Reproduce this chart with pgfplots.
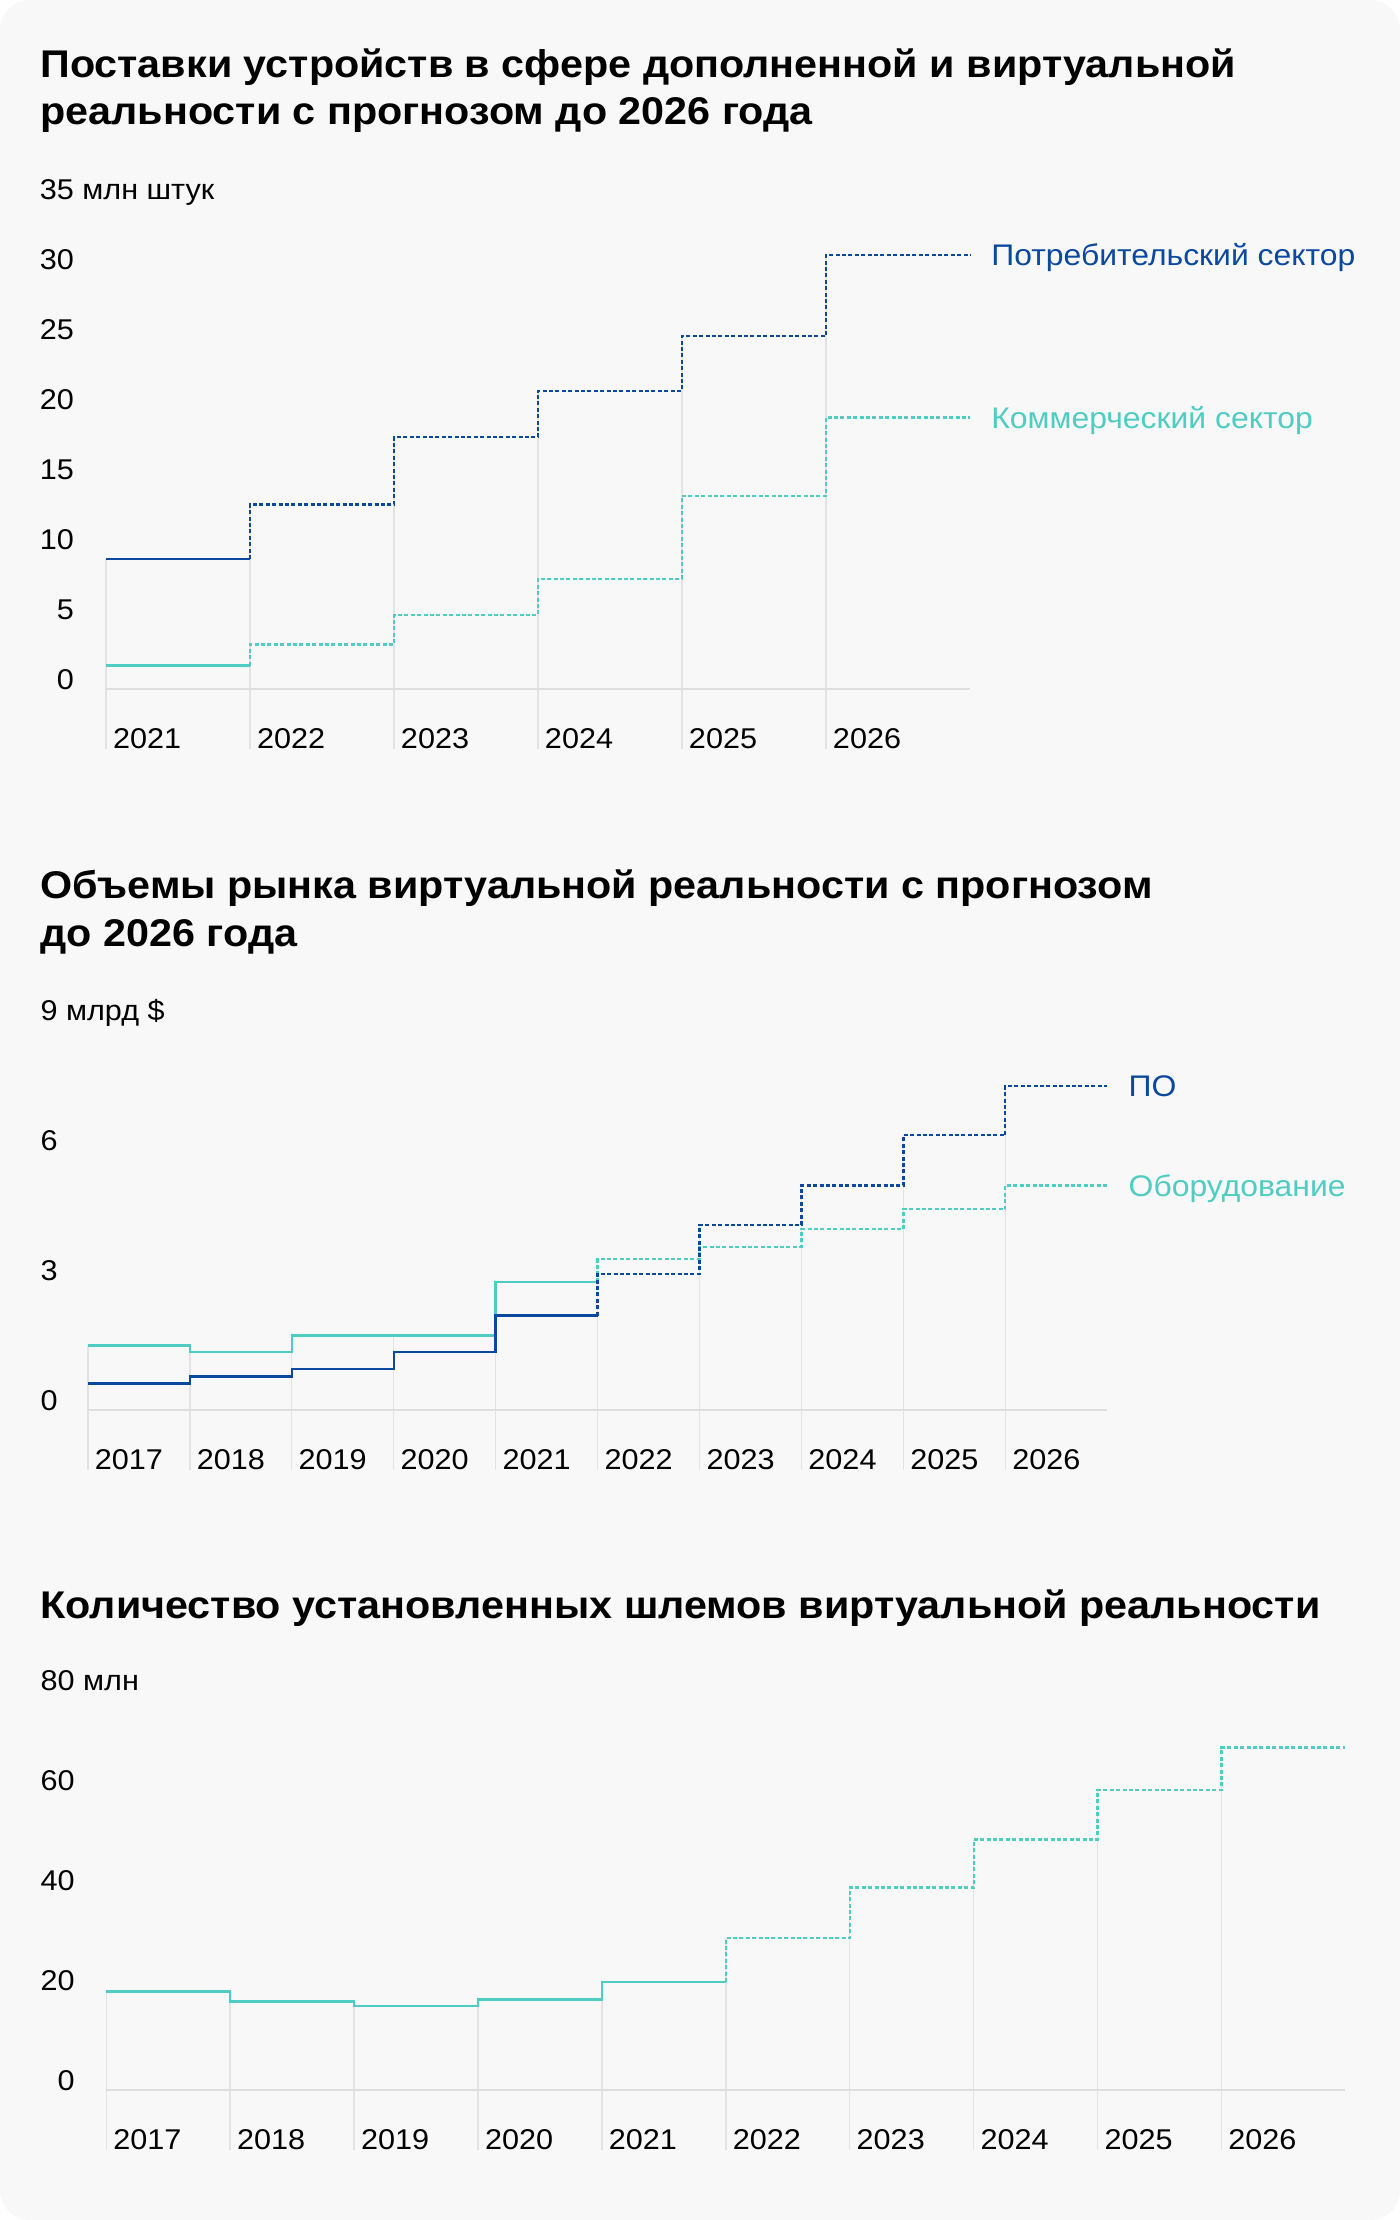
\documentclass[border=0pt]{standalone}
\usepackage{fontspec}
\setmainfont{Liberation Sans}[FakeStretch=1.07]
\usepackage{pgfplots}
\pgfplotsset{compat=1.18}

\definecolor{bgc}{HTML}{F8F8F8}
\definecolor{vrblue}{HTML}{0B48A0}
\definecolor{vrteal}{HTML}{50CDC3}
\definecolor{gridc}{HTML}{E3E3E3}
\definecolor{basec}{HTML}{DEDEDE}

\newcommand\ttl{\fontsize{19.3}{23}\selectfont\bfseries}
\newcommand\lbl{\fontsize{14.9}{17}\selectfont}

\tikzset{
  grd/.style={gridc, line width=0.75pt},
  base/.style={basec, line width=1pt},
}
\pgfplotsset{
  steps/.style={
    scale only axis, clip=false, xmin=0, ymin=0, anchor=origin,
    axis line style={draw=none}, major tick length=0pt,
    ticklabel style={font=\fontsize{14.3}{16}\selectfont, inner sep=0pt, text=black},
    xticklabel style={anchor=base west, xshift=3.3pt, yshift=-29.6pt},
    yticklabel style={anchor=base east},
  },
  fact/.style={line width=1.15pt},
  fcst/.style={line width=1.1pt, dash pattern=on 2pt off 1.2pt},
}

\begin{document}
\begin{tikzpicture}
\path[use as bounding box] (0,0) rectangle (700pt,-1110pt);
\fill[bgc, rounded corners=15pt] (0,0) rectangle (700pt,-1110pt);

% titles
\node[anchor=base west, inner sep=0pt, font=\ttl] at (20pt,-38.85pt) {Поставки устройств в сфере дополненной и виртуальной};
\node[anchor=base west, inner sep=0pt, font=\ttl] at (20pt,-62.5pt) {реальности с прогнозом до 2026 года};
\node[anchor=base west, inner sep=0pt, font=\ttl] at (20pt,-449.15pt) {Объемы рынка виртуальной реальности с прогнозом};
\node[anchor=base west, inner sep=0pt, font=\ttl] at (20pt,-473pt) {до 2026 года};
\node[anchor=base west, inner sep=0pt, font=\ttl] at (20pt,-809.15pt) {Количество установленных шлемов виртуальной реальности};

% 1: shipments, mln units
\begin{axis}[steps, at={(53pt,-344.7pt)}, width=432pt, height=245.2pt,
  xmax=6, ymax=35, xtick={0,...,5}, xticklabels={2021,2022,2023,2024,2025,2026},
  ytick={0,5,...,35}, yticklabels={0,5,10,15,20,25,30,{35\rlap{ млн штук}}},
  yticklabel style={xshift=-15.85pt}]
\draw[grd] (axis cs:0,9.3) -- ([yshift=-30pt]axis cs:0,0);
\draw[grd] (axis cs:1,13.2) -- ([yshift=-30pt]axis cs:1,0);
\draw[grd] (axis cs:2,18.0) -- ([yshift=-30pt]axis cs:2,0);
\draw[grd] (axis cs:3,21.3) -- ([yshift=-30pt]axis cs:3,0);
\draw[grd] (axis cs:4,25.2) -- ([yshift=-30pt]axis cs:4,0);
\draw[grd] (axis cs:5,31.0) -- ([yshift=-30pt]axis cs:5,0);
\draw[base] (axis cs:0,0) -- (axis cs:6,0);
% commercial
\addplot[vrteal, fact] coordinates {(0,1.7) (1,1.7)};
\addplot[vrteal, fcst, const plot mark left] coordinates {(1,1.7) (1,3.2) (2,5.3) (3,7.9) (4,13.8) (5,19.4) (6,19.4)};
% consumer
\addplot[vrblue, fact] coordinates {(0,9.3) (1,9.3)};
\addplot[vrblue, fcst, const plot mark left] coordinates {(1,9.3) (1,13.2) (2,18.0) (3,21.3) (4,25.2) (5,31.0) (6,31.0)};
\node[anchor=base west, inner sep=0pt, font=\lbl, text=vrblue, xshift=10.5pt, yshift=-5.3pt] at (axis cs:6,31.0) {Потребительский сектор};
\node[anchor=base west, inner sep=0pt, font=\lbl, text=vrteal, xshift=10.5pt, yshift=-5.3pt] at (axis cs:6,19.4) {Коммерческий сектор};
\end{axis}

% 2: VR market, bn USD
\begin{axis}[steps, at={(43.9pt,-705pt)}, width=509.75pt, height=195pt,
  xmax=10, ymax=9, xtick={0,...,9},
  xticklabels={2017,2018,2019,2020,2021,2022,2023,2024,2025,2026},
  ytick={0,3,6,9}, yticklabels={0,3,6,{9\rlap{ млрд \$}}},
  yticklabel style={xshift=-14.9pt}]
\draw[grd] (axis cs:0,1.48) -- ([yshift=-30pt]axis cs:0,0);
\draw[grd] (axis cs:1,1.48) -- ([yshift=-30pt]axis cs:1,0);
\draw[grd] (axis cs:2,1.71) -- ([yshift=-30pt]axis cs:2,0);
\draw[grd] (axis cs:3,1.71) -- ([yshift=-30pt]axis cs:3,0);
\draw[grd] (axis cs:4,2.95) -- ([yshift=-30pt]axis cs:4,0);
\draw[grd] (axis cs:5,3.48) -- ([yshift=-30pt]axis cs:5,0);
\draw[grd] (axis cs:6,4.27) -- ([yshift=-30pt]axis cs:6,0);
\draw[grd] (axis cs:7,5.18) -- ([yshift=-30pt]axis cs:7,0);
\draw[grd] (axis cs:8,6.34) -- ([yshift=-30pt]axis cs:8,0);
\draw[grd] (axis cs:9,7.48) -- ([yshift=-30pt]axis cs:9,0);
\draw[base] (axis cs:0,0) -- (axis cs:10,0);
% hardware
\addplot[vrteal, fact, const plot mark left] coordinates {(0,1.49) (1,1.34) (2,1.72) (3,1.72) (4,2.96) (5,2.96)};
\addplot[vrteal, fcst, const plot mark left] coordinates {(5,2.96) (5,3.48) (6,3.77) (7,4.17) (8,4.63) (9,5.18) (10,5.18)};
% software
\addplot[vrblue, fact, const plot mark left] coordinates {(0,0.61) (1,0.77) (2,0.94) (3,1.34) (4,2.18) (5,2.18)};
\addplot[vrblue, fcst, const plot mark left] coordinates {(5,2.18) (5,3.14) (6,4.27) (7,5.18) (8,6.34) (9,7.48) (10,7.48)};
\node[anchor=base west, inner sep=0pt, font=\lbl, text=vrblue, xshift=10.5pt, yshift=-5.3pt] at (axis cs:10,7.48) {ПО};
\node[anchor=base west, inner sep=0pt, font=\lbl, text=vrteal, xshift=10.5pt, yshift=-5.3pt] at (axis cs:10,5.18) {Оборудование};
\end{axis}

% 3: installed VR headsets, mln
\begin{axis}[steps, at={(53.15pt,-1045pt)}, width=619.5pt, height=200pt,
  xmax=10, ymax=80, xtick={0,...,9},
  xticklabels={2017,2018,2019,2020,2021,2022,2023,2024,2025,2026},
  ytick={0,20,...,80}, yticklabels={0,20,40,60,{80\rlap{ млн}}},
  yticklabel style={xshift=-15.6pt}]
\draw[grd] (axis cs:0,19.7) -- ([yshift=-30pt]axis cs:0,0);
\draw[grd] (axis cs:1,19.7) -- ([yshift=-30pt]axis cs:1,0);
\draw[grd] (axis cs:2,17.7) -- ([yshift=-30pt]axis cs:2,0);
\draw[grd] (axis cs:3,18.1) -- ([yshift=-30pt]axis cs:3,0);
\draw[grd] (axis cs:4,21.6) -- ([yshift=-30pt]axis cs:4,0);
\draw[grd] (axis cs:5,30.4) -- ([yshift=-30pt]axis cs:5,0);
\draw[grd] (axis cs:6,40.5) -- ([yshift=-30pt]axis cs:6,0);
\draw[grd] (axis cs:7,50.1) -- ([yshift=-30pt]axis cs:7,0);
\draw[grd] (axis cs:8,60.0) -- ([yshift=-30pt]axis cs:8,0);
\draw[grd] (axis cs:9,68.5) -- ([yshift=-30pt]axis cs:9,0);
\draw[base] (axis cs:0,0) -- (axis cs:10,0);
\addplot[vrteal, fact, const plot mark left] coordinates {(0,19.7) (1,17.7) (2,16.8) (3,18.1) (4,21.6) (5,21.6)};
\addplot[vrteal, fcst, const plot mark left] coordinates {(5,21.6) (5,30.4) (6,40.5) (7,50.1) (8,60.0) (9,68.5) (10,68.5)};
\end{axis}
\end{tikzpicture}
\end{document}
